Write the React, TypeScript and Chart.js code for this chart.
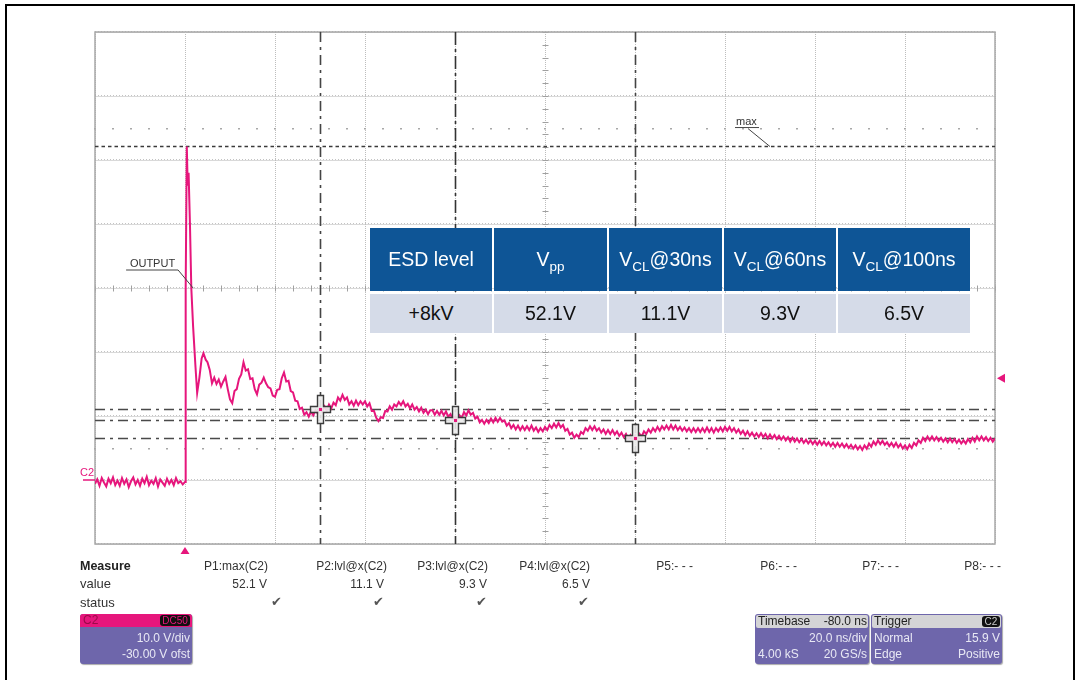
import React, { useEffect, useRef } from "react";
import { Chart, registerables } from "chart.js";

Chart.register(...registerables);

// ---- axes (time in ns relative to trigger, volts) ----
const X_MIN = -20;
const X_MAX = 180;
const X_DIV = 20;
const Y_MIN = -10;
const Y_MAX = 70;
const Y_DIV = 10;

// ---- trace C2 ----
const BASE_START = -20;
const BASE_STEP = 0.5;
const BASE_V = [
  -0.6, 0.1, -0.9, 0.3, -0.4, -1.0, 0.2, -0.5, 0.4, -0.8,
  -0.1, -0.9, 0.3, -0.6, 0.1, -1.1, -0.2, 0.4, -0.7, 0.0,
  -0.9, 0.2, -0.5, 0.5, -0.8, -0.1, -0.6, 0.3, -1.0, 0.1,
  -0.4, -0.9, 0.2, -0.6, 0.0, -0.8, 0.3, -0.5, -0.2, -0.7
];

const SPIKE_T = [0, 0.15, 0.4, 0.6, 0.8, 1.1, 1.4, 1.8, 2.3, 2.7, 3.2, 3.7, 4.1, 4.6];
const SPIKE_V = [-0.3, 30, 52.1, 46, 48, 40, 30, 24, 18, 13.6, 16, 19, 19.8, 18.8];

const TAIL_START = 5;
const TAIL_STEP = 0.5;
const TAIL_V = [
  18.4, 17.2, 15.1, 16.0, 15.0, 15.7, 14.6, 15.4, 16.1, 14.2,
  12.6, 12.0, 13.9, 14.2, 15.8, 16.5, 18.4, 17.1, 17.3, 15.8,
  15.9, 14.2, 13.4, 14.9, 15.2, 16.0, 15.1, 14.5, 14.3, 13.2,
  13.0, 14.1, 14.2, 15.9, 16.8, 15.4, 15.5, 13.9, 13.7, 12.4,
  12.3, 11.1, 11.3, 10.2, 10.6, 9.9, 10.7, 10.1, 10.9, 10.4,
  11.3, 10.7, 11.5, 10.9, 11.8, 11.2, 12.1, 11.7, 12.9, 12.4,
  13.3, 12.5, 12.9, 11.8, 12.3, 11.6, 12.4, 11.7, 12.3, 11.8,
  12.3, 11.5, 12.0, 10.8, 10.8, 9.7, 9.2, 9.8, 9.7, 10.8,
  10.7, 11.5, 11.0, 11.8, 11.5, 12.2, 11.7, 12.3, 11.5, 11.9,
  11.2, 11.8, 11.0, 11.4, 10.7, 11.3, 10.5, 11.0, 10.3, 10.9,
  10.9, 10.2, 10.8, 10.2, 10.8, 10.1, 10.7, 9.9, 10.3, 9.5,
  9.9, 9.4, 10.1, 9.7, 10.6, 10.1, 10.9, 10.2, 10.5, 9.6,
  9.9, 9.0, 9.4, 8.8, 9.4, 8.9, 9.6, 9.0, 9.7, 9.1,
  9.7, 9.1, 9.3, 8.5, 8.9, 8.1, 8.6, 7.9, 8.5, 7.8,
  8.4, 7.8, 8.4, 7.8, 8.5, 7.7, 8.2, 7.5, 8.1, 7.6,
  8.3, 7.8, 8.6, 8.1, 8.8, 8.2, 8.9, 8.2, 8.6, 7.7,
  8.0, 7.1, 7.4, 6.6, 7.1, 6.7, 7.5, 7.2, 8.1, 7.7,
  8.4, 7.8, 8.4, 7.7, 8.1, 7.4, 7.9, 7.2, 7.8, 7.2,
  7.8, 7.1, 7.6, 6.9, 7.4, 6.7, 7.2, 6.5, 7.0, 6.3,
  6.9, 6.3, 7.2, 6.8, 7.6, 7.2, 7.9, 7.4, 8.1, 7.6,
  8.3, 7.7, 8.4, 7.9, 8.5, 7.9, 8.6, 7.9, 8.5, 7.8,
  8.3, 7.7, 8.2, 7.6, 8.1, 7.5, 8.1, 7.5, 8.1, 7.5,
  8.1, 7.5, 8.2, 7.5, 8.1, 7.4, 8.1, 7.6, 8.2, 7.6,
  8.3, 7.7, 8.3, 7.6, 8.1, 7.4, 7.9, 7.2, 7.7, 7.0,
  7.6, 6.9, 7.4, 6.8, 7.3, 6.7, 7.3, 6.7, 7.2, 6.5,
  7.1, 6.5, 7.0, 6.4, 6.9, 6.3, 6.8, 6.2, 6.7, 6.0,
  6.6, 6.0, 6.5, 5.9, 6.4, 5.8, 6.3, 5.7, 6.2, 5.6,
  6.1, 5.5, 6.1, 5.5, 6.0, 5.4, 5.9, 5.3, 5.8, 5.2,
  5.8, 5.2, 5.7, 5.1, 5.6, 5.0, 5.5, 4.9, 5.4, 4.8,
  5.3, 4.7, 5.4, 4.9, 5.7, 5.2, 6.0, 5.5, 6.2, 5.6,
  6.1, 5.5, 5.9, 5.3, 5.8, 5.2, 5.8, 5.1, 5.6, 4.9,
  5.4, 4.8, 5.5, 5.0, 5.8, 5.4, 6.2, 5.8, 6.6, 6.1,
  6.8, 6.2, 6.8, 6.2, 6.7, 6.1, 6.6, 6.0, 6.5, 5.9,
  6.5, 5.9, 6.4, 5.8, 6.3, 5.7, 6.2, 5.7, 6.4, 5.9,
  6.6, 6.0, 6.8, 6.2, 6.8, 6.2, 6.7, 6.1, 6.6, 6.0,
  6.5
];

// ---- cursors / levels ----
const MAX_LEVEL = 52.1;
const CURSOR_T = [30, 60, 100];
const CURSOR_V = [11.1, 9.3, 6.5];
const TRIGGER_T = 0;
const TRIGGER_LEVEL = 15.9;
const GROUND_LEVEL = 0;
const CENTER_T = 80;
const CENTER_V = 30;
const DOT_ROWS_V = [55, 5];
const OUTPUT_AT = { t: 1.8, v: 30 };
const MAX_LABEL_AT = { t: 130, v: 52.1 };

// ---- table ----
const TABLE_HEAD = [
  { main: "ESD level", sub: "", rest: "" },
  { main: "V", sub: "pp", rest: "" },
  { main: "V", sub: "CL", rest: "@30ns" },
  { main: "V", sub: "CL", rest: "@60ns" },
  { main: "V", sub: "CL", rest: "@100ns" },
];
const TABLE_ROW = ["+8kV", "52.1V", "11.1V", "9.3V", "6.5V"];

// ---- measure panel ----
const MEASURE_NAMES = ["P1:max(C2)", "P2:lvl@x(C2)", "P3:lvl@x(C2)", "P4:lvl@x(C2)", "P5:- - -", "P6:- - -", "P7:- - -", "P8:- - -"];
const MEASURE_VALUES = ["52.1 V", "11.1 V", "9.3 V", "6.5 V", "", "", "", ""];
const MEASURE_STATUS = [true, true, true, true, false, false, false, false];
const CH_INFO = ["C2", "DC50", "10.0 V/div", "-30.00 V ofst"];
const TB_INFO = ["Timebase", "-80.0 ns", "20.0 ns/div", "4.00 kS", "20 GS/s"];
const TRIG_INFO = ["Trigger", "C2", "Normal", "15.9 V", "Edge", "Positive"];

const TRACE = "#e6167c";
const PURPLE = "#6e66ab";
const FONT = '"Liberation Sans", Arial, sans-serif';

function buildPoints() {
  const pts: { x: number; y: number }[] = [];
  BASE_V.forEach((v, i) => pts.push({ x: BASE_START + i * BASE_STEP, y: v }));
  SPIKE_T.forEach((t, i) => pts.push({ x: t, y: SPIKE_V[i] }));
  TAIL_V.forEach((v, i) => pts.push({ x: TAIL_START + i * TAIL_STEP, y: v }));
  return pts;
}

const scopePlugin = {
  id: "scope",
  beforeDatasetsDraw(chart: any) {
    const { ctx, chartArea: a } = chart;
    const xs = chart.scales.x;
    const ys = chart.scales.y;
    ctx.save();
    // horizontal grid
    for (let v = Y_MIN; v <= Y_MAX; v += Y_DIV) {
      const y = Math.round(ys.getPixelForValue(v)) + 0.5;
      ctx.strokeStyle = "#d9d9d9";
      ctx.lineWidth = 1;
      ctx.setLineDash([]);
      ctx.beginPath();
      ctx.moveTo(a.left, y);
      ctx.lineTo(a.right, y);
      ctx.stroke();
      ctx.strokeStyle = "#c4c4c4";
      ctx.setLineDash([1, 2]);
      ctx.beginPath();
      ctx.moveTo(a.left, y - 1);
      ctx.lineTo(a.right, y - 1);
      ctx.stroke();
    }
    // vertical grid
    for (let t = X_MIN; t <= X_MAX; t += X_DIV) {
      const x = Math.round(xs.getPixelForValue(t)) + 0.5;
      ctx.strokeStyle = "#bdbdbd";
      ctx.setLineDash([1, 1]);
      ctx.beginPath();
      ctx.moveTo(x, a.top);
      ctx.lineTo(x, a.bottom);
      ctx.stroke();
    }
    ctx.setLineDash([]);
    // center axes ticks
    const cy = Math.round(ys.getPixelForValue(CENTER_V)) + 0.5;
    const cx = Math.round(xs.getPixelForValue(CENTER_T)) + 0.5;
    ctx.strokeStyle = "#a0a0a0";
    ctx.lineWidth = 1;
    for (let t = X_MIN; t <= X_MAX; t += X_DIV / 5) {
      const x = Math.round(xs.getPixelForValue(t)) + 0.5;
      ctx.beginPath();
      ctx.moveTo(x, cy - 3);
      ctx.lineTo(x, cy + 3);
      ctx.stroke();
    }
    for (let v = Y_MIN; v <= Y_MAX; v += Y_DIV / 5) {
      const y = Math.round(ys.getPixelForValue(v)) + 0.5;
      ctx.beginPath();
      ctx.moveTo(cx - 3, y);
      ctx.lineTo(cx + 3, y);
      ctx.stroke();
    }
    // dot rows
    ctx.fillStyle = "#a8a8a8";
    DOT_ROWS_V.forEach((v) => {
      const y = Math.round(ys.getPixelForValue(v));
      for (let t = X_MIN; t <= X_MAX; t += X_DIV / 5) {
        const x = Math.round(xs.getPixelForValue(t));
        ctx.fillRect(x - 1, y, 2, 1.5);
      }
    });
    // frame
    ctx.strokeStyle = "#a8a8a8";
    ctx.lineWidth = 1.5;
    ctx.strokeRect(a.left, a.top, a.right - a.left, a.bottom - a.top);
    // max level
    const my = ys.getPixelForValue(MAX_LEVEL);
    ctx.strokeStyle = "#3a3a3a";
    ctx.lineWidth = 1.6;
    ctx.setLineDash([3.5, 3]);
    ctx.beginPath();
    ctx.moveTo(a.left, my);
    ctx.lineTo(a.right, my);
    ctx.stroke();
    // horizontal cursors
    ctx.strokeStyle = "#4a4a4a";
    ctx.lineWidth = 1.4;
    ctx.setLineDash([10, 5, 3, 5]);
    CURSOR_V.forEach((v) => {
      const y = Math.round(ys.getPixelForValue(v)) + 0.5;
      ctx.beginPath();
      ctx.moveTo(a.left, y);
      ctx.lineTo(a.right, y);
      ctx.stroke();
    });
    // vertical cursors
    CURSOR_T.forEach((t, i) => {
      const x = Math.round(xs.getPixelForValue(t)) + 0.5;
      ctx.strokeStyle = i === 1 ? "#333" : "#444";
      ctx.lineWidth = 1.6;
      ctx.setLineDash(i === 1 ? [13, 4, 3, 4] : [10, 5, 3, 5]);
      ctx.beginPath();
      ctx.moveTo(x, a.top);
      ctx.lineTo(x, a.bottom);
      ctx.stroke();
    });
    // trigger time dotted line
    const tx = Math.round(xs.getPixelForValue(TRIGGER_T)) + 0.5;
    ctx.strokeStyle = "#bdbdbd";
    ctx.lineWidth = 1;
    ctx.setLineDash([1, 1]);
    ctx.beginPath();
    ctx.moveTo(tx, a.top);
    ctx.lineTo(tx, a.bottom);
    ctx.stroke();
    ctx.restore();
  },
  afterDatasetsDraw(chart: any) {
    const { ctx, chartArea: a } = chart;
    const xs = chart.scales.x;
    const ys = chart.scales.y;
    ctx.save();
    // crosses
    CURSOR_T.forEach((t, i) => {
      const cx = Math.round(xs.getPixelForValue(t)) + 0.5;
      const cy = Math.round(ys.getPixelForValue(CURSOR_V[i])) + 0.5;
      const hw = 10, hh = 14, th = 3;
      ctx.beginPath();
      ctx.moveTo(cx - th, cy - hh);
      ctx.lineTo(cx + th, cy - hh);
      ctx.lineTo(cx + th, cy - th);
      ctx.lineTo(cx + hw, cy - th);
      ctx.lineTo(cx + hw, cy + th);
      ctx.lineTo(cx + th, cy + th);
      ctx.lineTo(cx + th, cy + hh);
      ctx.lineTo(cx - th, cy + hh);
      ctx.lineTo(cx - th, cy + th);
      ctx.lineTo(cx - hw, cy + th);
      ctx.lineTo(cx - hw, cy - th);
      ctx.lineTo(cx - th, cy - th);
      ctx.closePath();
      ctx.fillStyle = "rgba(235,235,235,0.9)";
      ctx.fill();
      ctx.strokeStyle = "#3c3c3c";
      ctx.lineWidth = 1.4;
      ctx.setLineDash([]);
      ctx.stroke();
      ctx.fillStyle = TRACE;
      ctx.fillRect(cx - 1.5, cy - 1.5, 3, 3);
    });
    // trigger time marker (bottom)
    const tx = xs.getPixelForValue(TRIGGER_T);
    ctx.fillStyle = TRACE;
    ctx.beginPath();
    ctx.moveTo(tx - 4.5, a.bottom + 10);
    ctx.lineTo(tx + 4.5, a.bottom + 10);
    ctx.lineTo(tx, a.bottom + 3);
    ctx.closePath();
    ctx.fill();
    // trigger level marker (right)
    const ty = ys.getPixelForValue(TRIGGER_LEVEL);
    ctx.beginPath();
    ctx.moveTo(a.right + 2, ty);
    ctx.lineTo(a.right + 10, ty - 4.5);
    ctx.lineTo(a.right + 10, ty + 4.5);
    ctx.closePath();
    ctx.fill();
    // ground marker
    const gy = ys.getPixelForValue(GROUND_LEVEL);
    ctx.strokeStyle = TRACE;
    ctx.lineWidth = 1.5;
    ctx.beginPath();
    ctx.moveTo(a.left - 12, gy);
    ctx.lineTo(a.left, gy);
    ctx.stroke();
    ctx.font = `11px ${FONT}`;
    ctx.textBaseline = "alphabetic";
    ctx.textAlign = "left";
    ctx.fillText("C2", a.left - 15, gy - 4);
    // OUTPUT label
    const ox = xs.getPixelForValue(OUTPUT_AT.t);
    const oy = ys.getPixelForValue(OUTPUT_AT.v);
    ctx.fillStyle = "#333";
    ctx.font = `11px ${FONT}`;
    ctx.textAlign = "right";
    ctx.fillText("OUTPUT", ox - 18, oy - 21);
    ctx.strokeStyle = "#444";
    ctx.lineWidth = 1;
    ctx.beginPath();
    ctx.moveTo(ox - 67, oy - 18);
    ctx.lineTo(ox - 15, oy - 18);
    ctx.lineTo(ox, oy);
    ctx.stroke();
    // max label
    const mx = xs.getPixelForValue(MAX_LABEL_AT.t);
    const my = ys.getPixelForValue(MAX_LABEL_AT.v);
    ctx.textAlign = "left";
    ctx.fillText("max", mx - 34, my - 22);
    ctx.beginPath();
    ctx.moveTo(mx - 35, my - 19);
    ctx.lineTo(mx - 11, my - 19);
    ctx.stroke();
    ctx.beginPath();
    ctx.moveTo(mx - 22, my - 18);
    ctx.lineTo(mx, my);
    ctx.stroke();
    ctx.restore();
  },
};

const TABLE_COLS = [
  { x: 370, w: 122 },
  { x: 494, w: 113 },
  { x: 609, w: 113 },
  { x: 724, w: 112 },
  { x: 838, w: 132 },
];
const NAME_RIGHT = [268, 387, 488, 590, 693, 797, 899, 1001];
const VALUE_RIGHT = [267, 384, 487, 590];
const CHECK_X = [276, 378, 481, 583];

function abs(left: number, top: number, extra: React.CSSProperties = {}): React.CSSProperties {
  return { position: "absolute", left, top, ...extra };
}

export default function App() {
  const canvasRef = useRef<HTMLCanvasElement | null>(null);

  useEffect(() => {
    if (!canvasRef.current) return;
    const chart = new Chart(canvasRef.current, {
      type: "line",
      data: {
        datasets: [
          {
            data: buildPoints(),
            borderColor: TRACE,
            borderWidth: 2,
            pointRadius: 0,
            tension: 0,
            fill: false,
          },
        ],
      },
      options: {
        responsive: false,
        animation: false,
        devicePixelRatio: 1,
        layout: { padding: { left: 95, right: 85, top: 32, bottom: 136 } },
        scales: {
          x: { type: "linear", min: X_MIN, max: X_MAX, display: false },
          y: { type: "linear", min: Y_MIN, max: Y_MAX, display: false },
        },
        plugins: { legend: { display: false }, tooltip: { enabled: false } },
      },
      plugins: [scopePlugin],
    } as any);
    return () => chart.destroy();
  }, []);

  const txt: React.CSSProperties = { fontFamily: FONT, fontSize: 12, color: "#333", whiteSpace: "nowrap", lineHeight: "14px" };
  const boxTxt: React.CSSProperties = { fontFamily: FONT, fontSize: 12, color: "#e8e8f4", whiteSpace: "nowrap", lineHeight: "14px" };
  const hdrTxt: React.CSSProperties = { fontFamily: FONT, fontSize: 12, color: "#222", whiteSpace: "nowrap", lineHeight: "13px" };

  return (
    <div style={{ position: "absolute", left: 0, top: 0, width: 1080, height: 680, overflow: "hidden", background: "#fff" }}>
      <canvas ref={canvasRef} width={1080} height={680} style={{ position: "absolute", left: 0, top: 0 }} />
      {/* outer frame */}
      <div style={abs(5, 4, { width: 1066, height: 720, border: "2px solid #000", pointerEvents: "none" })} />

      {/* table */}
      {TABLE_COLS.map((c, i) => (
        <div key={"h" + i} style={abs(c.x, 228, { width: c.w, height: 63, background: "#0e5596", display: "flex", alignItems: "center", justifyContent: "center", fontFamily: FONT, fontSize: 19.5, color: "#fff", whiteSpace: "nowrap" })}>
          <span>{TABLE_HEAD[i].main}</span>
          {TABLE_HEAD[i].sub && <span style={{ fontSize: 13.5, position: "relative", top: 7 }}>{TABLE_HEAD[i].sub}</span>}
          {TABLE_HEAD[i].rest && <span>{TABLE_HEAD[i].rest}</span>}
        </div>
      ))}
      {TABLE_COLS.map((c, i) => (
        <div key={"r" + i} style={abs(c.x, 294, { width: c.w, height: 39, background: "#d5dbe8", display: "flex", alignItems: "center", justifyContent: "center", fontFamily: FONT, fontSize: 19.5, color: "#111" })}>
          {TABLE_ROW[i]}
        </div>
      ))}

      {/* measure panel */}
      <div style={abs(80, 559, { ...txt, fontWeight: "bold", fontSize: 12.5, color: "#222" })}>Measure</div>
      <div style={abs(80, 577, { ...txt, fontSize: 13 })}>value</div>
      <div style={abs(80, 596, { ...txt, fontSize: 13 })}>status</div>
      {MEASURE_NAMES.map((n, i) => (
        <div key={"n" + i} style={abs(NAME_RIGHT[i] - 120, 559, { ...txt, width: 120, textAlign: "right" })}>{n}</div>
      ))}
      {MEASURE_VALUES.map((v, i) =>
        v ? (
          <div key={"v" + i} style={abs(VALUE_RIGHT[i] - 80, 577, { ...txt, width: 80, textAlign: "right" })}>{v}</div>
        ) : null
      )}
      {MEASURE_STATUS.map((s, i) =>
        s ? (
          <div key={"s" + i} style={abs(CHECK_X[i] - 10, 595, { ...txt, width: 20, textAlign: "center", fontSize: 13, color: "#555" })}>✔</div>
        ) : null
      )}

      {/* channel box */}
      <div style={abs(80, 614, { width: 112, height: 50, background: PURPLE, borderRadius: 3, overflow: "hidden", boxShadow: "1px 1px 1px #aaa" })}>
        <div style={abs(0, 0, { width: 112, height: 13, background: TRACE })} />
        <div style={abs(3, 0, { ...hdrTxt, color: "#9b0a4a" })}>{CH_INFO[0]}</div>
        <div style={abs(80, 1, { width: 30, height: 11, background: "#111", borderRadius: 3 })} />
        <div style={abs(80, 0, { ...hdrTxt, width: 30, textAlign: "center", fontSize: 10, color: TRACE })}>{CH_INFO[1]}</div>
        <div style={abs(0, 17, { ...boxTxt, width: 110, textAlign: "right" })}>{CH_INFO[2]}</div>
        <div style={abs(0, 33, { ...boxTxt, width: 110, textAlign: "right" })}>{CH_INFO[3]}</div>
      </div>

      {/* timebase box */}
      <div style={abs(755, 614, { width: 114, height: 50, background: PURPLE, borderRadius: 3, overflow: "hidden", boxShadow: "1px 1px 1px #aaa" })}>
        <div style={abs(1, 1, { width: 112, height: 13, background: "#d4d4d6", borderRadius: 2 })} />
        <div style={abs(3, 1, hdrTxt)}>{TB_INFO[0]}</div>
        <div style={abs(0, 1, { ...hdrTxt, width: 112, textAlign: "right" })}>{TB_INFO[1]}</div>
        <div style={abs(0, 17, { ...boxTxt, width: 112, textAlign: "right" })}>{TB_INFO[2]}</div>
        <div style={abs(3, 33, boxTxt)}>{TB_INFO[3]}</div>
        <div style={abs(0, 33, { ...boxTxt, width: 112, textAlign: "right" })}>{TB_INFO[4]}</div>
      </div>

      {/* trigger box */}
      <div style={abs(871, 614, { width: 131, height: 50, background: PURPLE, borderRadius: 3, overflow: "hidden", boxShadow: "1px 1px 1px #aaa" })}>
        <div style={abs(1, 1, { width: 129, height: 13, background: "#d4d4d6", borderRadius: 2 })} />
        <div style={abs(3, 1, hdrTxt)}>{TRIG_INFO[0]}</div>
        <div style={abs(111, 2, { width: 18, height: 11, background: "#111", borderRadius: 3 })} />
        <div style={abs(111, 1, { ...hdrTxt, width: 18, textAlign: "center", fontSize: 10, color: "#ccc" })}>{TRIG_INFO[1]}</div>
        <div style={abs(3, 17, boxTxt)}>{TRIG_INFO[2]}</div>
        <div style={abs(0, 17, { ...boxTxt, width: 129, textAlign: "right" })}>{TRIG_INFO[3]}</div>
        <div style={abs(3, 33, boxTxt)}>{TRIG_INFO[4]}</div>
        <div style={abs(0, 33, { ...boxTxt, width: 129, textAlign: "right" })}>{TRIG_INFO[5]}</div>
      </div>
    </div>
  );
}
